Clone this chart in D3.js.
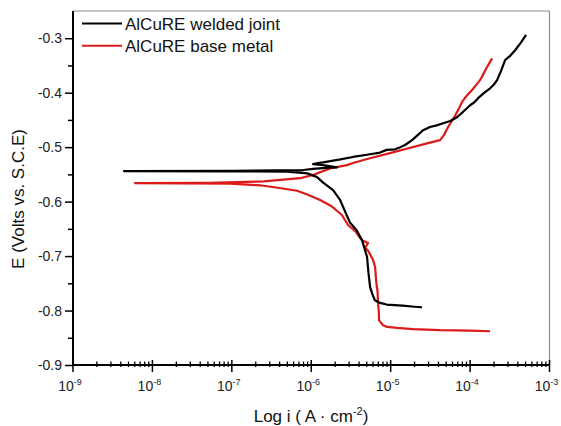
<!DOCTYPE html>
<html>
<head>
<meta charset="utf-8">
<script src="https://cdn.jsdelivr.net/npm/d3@7"></script>
<style>
body{margin:0;background:#fff;}
svg{display:block;font-family:"Liberation Sans",Arial,sans-serif;}
</style>
</head>
<body>
<svg id="chart" width="561" height="426"></svg>
<script>
// series: [log10(i), E]
var seriesNames = ['AlCuRE welded joint', 'AlCuRE base metal'];
var seriesColors = ['#000000', '#dc1a1a'];

var weldedJoint = [
  [-4.605,-0.794],[-4.70,-0.793],[-4.85,-0.791],[-5.05,-0.789],[-5.134,-0.786],[-5.20,-0.781],
  [-5.23,-0.770],[-5.259,-0.757],[-5.28,-0.730],[-5.297,-0.702],[-5.36,-0.671],[-5.43,-0.652],
  [-5.511,-0.639],[-5.637,-0.597],[-5.725,-0.579],[-5.85,-0.565],[-5.927,-0.555],[-6.05,-0.548],
  [-6.3,-0.545],[-7.0,-0.5445],[-8.358,-0.544],[-7.0,-0.5435],[-6.1,-0.542],[-5.977,-0.540],
  [-5.82,-0.538],[-5.675,-0.537],[-5.85,-0.533],[-5.977,-0.531],[-5.90,-0.529],[-5.851,-0.528],
  [-5.65,-0.523],[-5.474,-0.518],[-5.30,-0.514],[-5.134,-0.510],[-5.05,-0.505],[-4.945,-0.504],
  [-4.88,-0.500],[-4.819,-0.496],[-4.730,-0.487],[-4.66,-0.478],[-4.592,-0.469],[-4.504,-0.463],
  [-4.42,-0.460],[-4.340,-0.456],[-4.25,-0.452],[-4.164,-0.445],[-4.08,-0.434],[-4.000,-0.423],
  [-3.95,-0.418],[-3.899,-0.410],[-3.82,-0.400],[-3.748,-0.392],[-3.70,-0.385],[-3.660,-0.377],
  [-3.61,-0.360],[-3.559,-0.340],[-3.50,-0.333],[-3.433,-0.322],[-3.36,-0.308],[-3.295,-0.294]
];

var baseMetal = [
  [-3.748,-0.838],[-4.0,-0.837],[-4.378,-0.836],[-4.718,-0.834],[-4.919,-0.832],[-5.045,-0.830],
  [-5.096,-0.827],[-5.146,-0.818],[-5.150,-0.800],[-5.159,-0.786],[-5.165,-0.765],[-5.180,-0.750],
  [-5.196,-0.720],[-5.222,-0.707],[-5.285,-0.690],[-5.322,-0.685],[-5.285,-0.676],[-5.360,-0.671],
  [-5.385,-0.667],[-5.44,-0.655],[-5.537,-0.643],[-5.612,-0.625],[-5.65,-0.620],[-5.75,-0.608],
  [-5.889,-0.597],[-6.05,-0.587],[-6.179,-0.580],[-6.40,-0.575],[-6.645,-0.570],[-7.023,-0.567],
  [-7.6,-0.5665],[-8.219,-0.566],[-7.3,-0.5655],[-6.6,-0.563],[-6.141,-0.557],[-5.977,-0.551],
  [-5.763,-0.539],[-5.55,-0.533],[-5.474,-0.529],[-5.25,-0.520],[-5.008,-0.511],[-4.80,-0.503],
  [-4.542,-0.493],[-4.378,-0.487],[-4.33,-0.478],[-4.277,-0.463],[-4.20,-0.445],[-4.151,-0.432],
  [-4.101,-0.417],[-4.04,-0.405],[-3.975,-0.395],[-3.874,-0.377],[-3.83,-0.365],[-3.786,-0.353],
  [-3.723,-0.337]
];

var xMajorExp = [-9,-8,-7,-6,-5,-4,-3];
var yMajor = [-0.9,-0.8,-0.7,-0.6,-0.5,-0.4,-0.3];
var yMinor = [-0.85,-0.75,-0.65,-0.55,-0.45,-0.35];

var svg = d3.select('#chart');
var mLeft = 73, mRight = 549.5, mTop = 11, mBottom = 365;

var x = d3.scaleLog().domain([1e-9, 1e-3]).range([mLeft, mRight]);
var y = d3.scaleLinear().domain([-0.9, -0.25]).range([mBottom, mTop]);

// frame top/right
svg.append('line').attr('x1', mLeft).attr('x2', mRight).attr('y1', mTop).attr('y2', mTop)
  .attr('stroke', '#8a8a8a').attr('stroke-width', 1.2);
svg.append('line').attr('x1', mRight).attr('x2', mRight).attr('y1', mTop).attr('y2', mBottom)
  .attr('stroke', '#8a8a8a').attr('stroke-width', 1.2);

// y axis
var yAxis = d3.axisLeft(y).tickValues(yMajor).tickSize(8).tickSizeOuter(0)
  .tickFormat(function(d){ return d.toFixed(1); });
var gy = svg.append('g').attr('transform', 'translate(' + mLeft + ',0)').call(yAxis);
gy.select('.domain').remove();
gy.selectAll('.tick line').attr('stroke-width', 1.5);
gy.selectAll('.tick text').attr('font-size', 14).attr('fill', '#222').attr('x', -11)
  .attr('font-family', '"Liberation Sans",Arial,sans-serif');
var gyMin = svg.append('g').attr('transform', 'translate(' + mLeft + ',0)')
  .call(d3.axisLeft(y).tickValues(yMinor).tickSize(5).tickFormat(''));
gyMin.select('.domain').remove();
gyMin.selectAll('.tick line').attr('stroke-width', 1.5);

// x ticks (crossing the axis)
var xMinor = [];
xMajorExp.slice(0, -1).forEach(function(e){
  for (var k = 2; k <= 9; k++) xMinor.push(k * Math.pow(10, e));
});
svg.append('g').selectAll('line').data(xMinor).enter().append('line')
  .attr('x1', function(d){ return x(d); }).attr('x2', function(d){ return x(d); })
  .attr('y1', mBottom - 3.5).attr('y2', mBottom + 2)
  .attr('stroke', '#000').attr('stroke-width', 1.3);
svg.append('g').selectAll('line').data(xMajorExp).enter().append('line')
  .attr('x1', function(d){ return x(Math.pow(10, d)); }).attr('x2', function(d){ return x(Math.pow(10, d)); })
  .attr('y1', mBottom - 5).attr('y2', mBottom + 7)
  .attr('stroke', '#000').attr('stroke-width', 1.5);

var xl = svg.append('g').selectAll('text').data(xMajorExp).enter().append('text')
  .attr('x', function(d){ return x(Math.pow(10, d)) - 3; })
  .attr('y', 391).attr('text-anchor', 'middle').attr('font-size', 14).attr('fill', '#222');
xl.append('tspan').text('10');
xl.append('tspan').attr('dy', -6).attr('font-size', 9).text(function(d){ return '-' + Math.abs(d); });

// axis lines
svg.append('line').attr('x1', mLeft).attr('x2', mLeft).attr('y1', mTop).attr('y2', mBottom + 1)
  .attr('stroke', '#000').attr('stroke-width', 2);
svg.append('line').attr('x1', mLeft - 1).attr('x2', mRight).attr('y1', mBottom).attr('y2', mBottom)
  .attr('stroke', '#000').attr('stroke-width', 2);

// curves
var line = d3.line()
  .x(function(d){ return x(Math.pow(10, d[0])); })
  .y(function(d){ return y(d[1]); });

svg.append('path').datum(baseMetal).attr('d', line)
  .attr('fill', 'none').attr('stroke', seriesColors[1]).attr('stroke-width', 2.2)
  .attr('stroke-linejoin', 'round');
svg.append('path').datum(weldedJoint).attr('d', line)
  .attr('fill', 'none').attr('stroke', seriesColors[0]).attr('stroke-width', 2.2)
  .attr('stroke-linejoin', 'round');

// legend
var lg = svg.append('g').selectAll('g').data(seriesNames).enter().append('g')
  .attr('transform', function(d, i){ return 'translate(0,' + (23.5 + i * 22.3) + ')'; });
lg.append('line').attr('x1', 82).attr('x2', 122).attr('y1', 0).attr('y2', 0)
  .attr('stroke', function(d, i){ return seriesColors[i]; }).attr('stroke-width', 2);
lg.append('text').attr('x', 125).attr('y', 6.5).attr('font-size', 17).attr('fill', '#111')
  .text(function(d){ return d; });

// axis titles
svg.append('text').attr('transform', 'translate(24,199) rotate(-90)')
  .attr('text-anchor', 'middle').attr('font-size', 17).attr('fill', '#111')
  .text('E (Volts vs. S.C.E)');
var xt = svg.append('text').attr('x', 311).attr('y', 422).attr('text-anchor', 'middle')
  .attr('font-size', 17).attr('fill', '#111');
xt.append('tspan').text('Log i ( A \u00b7 cm');
xt.append('tspan').attr('dy', -7).attr('font-size', 11).text('-2');
xt.append('tspan').attr('dy', 7).text(')');
</script>
</body>
</html>
